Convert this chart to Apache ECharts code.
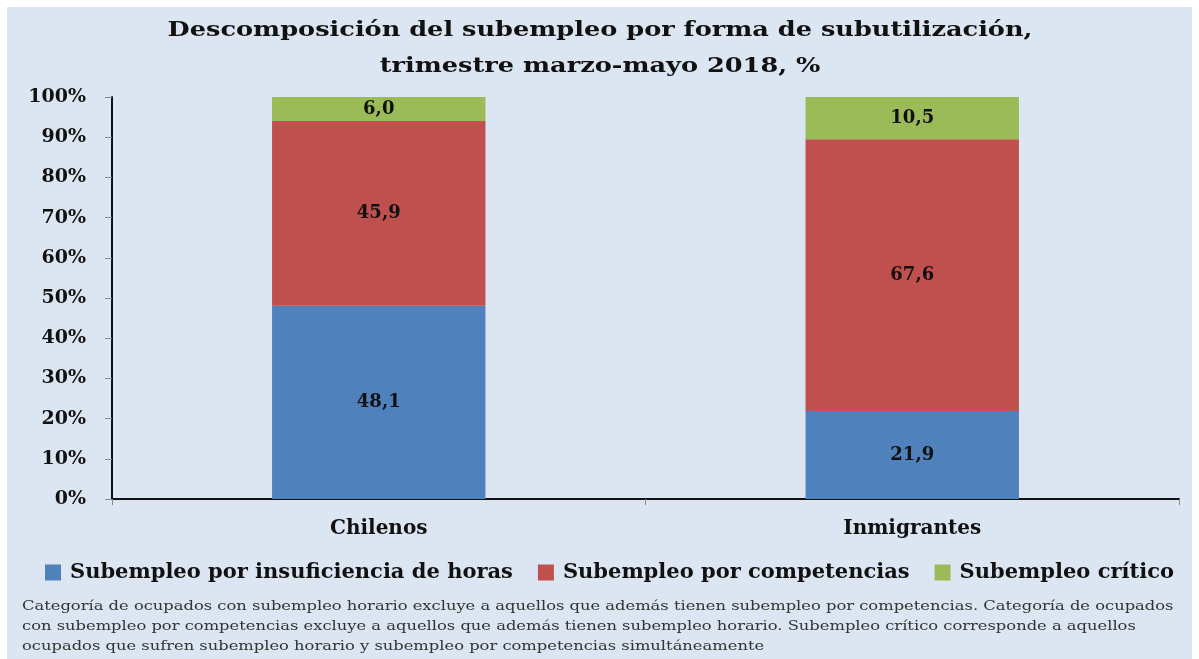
<!DOCTYPE html>
<html>
<head>
<meta charset="utf-8">
<script src="https://cdn.jsdelivr.net/npm/echarts@6/dist/echarts.min.js"></script>
<style>
  html, body { margin: 0; padding: 0; background: #ffffff; }
  #container { width: 1199px; height: 659px; }
</style>
</head>
<body>
<div id="container"></div>
<script>
var categories = ['Chilenos', 'Inmigrantes'];
var horas = [48.1, 21.9];
var competencias = [45.9, 67.6];
var critico = [6.0, 10.5];
var seriesNames = ['Subempleo por insuficiencia de horas', 'Subempleo por competencias', 'Subempleo crítico'];
var titleLines = ['Descomposición del subempleo por forma de subutilización,', 'trimestre marzo-mayo 2018, %'];
var footnote = [
    'Categoría de ocupados con subempleo horario excluye a aquellos que además tienen subempleo por competencias. Categoría de ocupados',
    'con subempleo por competencias excluye a aquellos que además tienen subempleo horario. Subempleo crítico corresponde a aquellos',
    'ocupados que sufren subempleo horario y subempleo por competencias simultáneamente'
];

var serif = '"DejaVu Serif"';

var dom = document.getElementById('container');
var myChart = echarts.init(dom);

function barLabel() {
    return {
        show: true,
        position: 'inside',
        color: '#111',
        fontFamily: serif,
        fontWeight: 'bold',
        fontSize: 18,
        formatter: function (p) {
            return p.value.toFixed(1).replace('.', ',');
        }
    };
}

function makeSeries(name, data, color) {
    return {
        name: name,
        type: 'bar',
        stack: 'total',
        barWidth: '40%',
        data: data,
        itemStyle: { color: color },
        label: barLabel()
    };
}

var option = {
    backgroundColor: '#ffffff',
    animation: false,
    graphic: [
        {
            type: 'rect',
            left: 7, top: 7,
            shape: { width: 1185, height: 652 },
            style: { fill: '#dce6f2' },
            z: -10
        },
        // title, stretched a bit wider like the original
        {
            type: 'text',
            x: 600, y: 49,
            scaleX: 1.28,
            style: {
                text: titleLines.join('\n'),
                font: 'bold 20px "DejaVu Serif"',
                fill: '#111',
                align: 'center',
                verticalAlign: 'middle',
                lineHeight: 36
            }
        },
        {
            type: 'text',
            x: 22, y: 597,
            scaleX: 1.255,
            style: {
                text: footnote.join('\n'),
                font: '13px "DejaVu Serif"',
                fill: '#333',
                lineHeight: 20
            }
        }
    ],
    legend: {
        top: 557,
        left: 40,
        itemWidth: 16,
        itemHeight: 16,
        itemGap: 25,
        icon: 'rect',
        data: seriesNames,
        textStyle: {
            fontFamily: serif,
            fontWeight: 'bold',
            fontSize: 21,
            color: '#111',
            padding: [0, 0, 0, 4]
        }
    },
    grid: { left: 112, right: 20, top: 97, bottom: 160 },
    xAxis: {
        type: 'category',
        data: categories,
        axisLine: { lineStyle: { color: '#111', width: 2 } },
        axisTick: { show: true, length: 6, lineStyle: { color: '#888' } },
        axisLabel: {
            margin: 20,
            fontFamily: serif,
            fontWeight: 'bold',
            fontSize: 20,
            color: '#111'
        }
    },
    yAxis: {
        type: 'value',
        min: 0,
        max: 100,
        interval: 10,
        axisLine: { show: true, lineStyle: { color: '#111', width: 2 } },
        axisTick: { show: true, length: 7, lineStyle: { color: '#888' } },
        splitLine: { show: false },
        axisLabel: {
            margin: 26,
            formatter: '{value}%',
            fontFamily: serif,
            fontWeight: 'bold',
            fontSize: 19,
            color: '#111'
        }
    },
    series: [
        makeSeries(seriesNames[0], horas, '#4f81bd'),
        makeSeries(seriesNames[1], competencias, '#c0504d'),
        makeSeries(seriesNames[2], critico, '#9bbb59')
    ]
};

myChart.setOption(option);
</script>
</body>
</html>
